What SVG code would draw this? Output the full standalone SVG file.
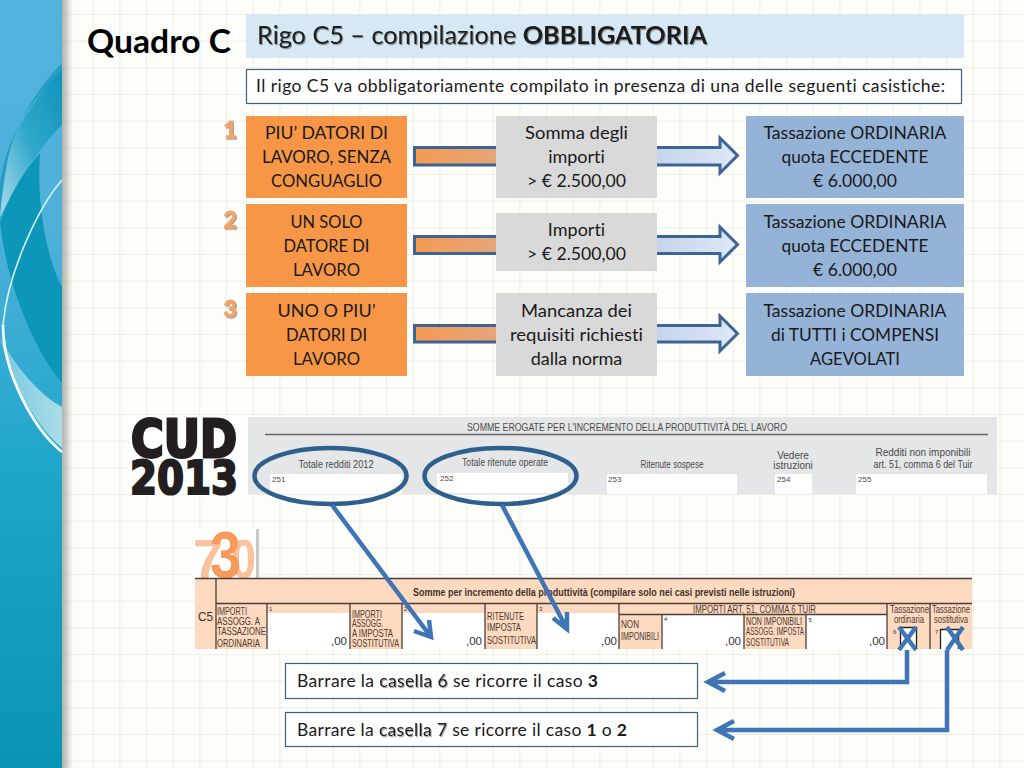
<svg xmlns="http://www.w3.org/2000/svg" width="1024" height="768" viewBox="0 0 1024 768">
<style>
text{font-family:"Lato","Liberation Sans",sans-serif;fill:#1a1a1a;font-variant-ligatures:none}
.n{font-size:18px;text-anchor:middle}
.org{fill:#f79646}.gry{fill:#d9d9d9}.blu{fill:#95b3d7}
.arrow{fill:url(#ag);stroke:#3e6496;stroke-width:3}
.link{fill:none;stroke:#3f75b5;stroke-width:4.5}
.oval{fill:none;stroke:#2f5f8d;stroke-width:4.5}
.f{font-family:"Liberation Sans",sans-serif;fill:#4a4a4a}
.s{font-size:10px;text-anchor:middle}
.w{fill:#fff}
.l{font-family:"Liberation Sans",sans-serif;font-size:10px;fill:#4b3b30}
.v{font-family:"Liberation Sans",sans-serif;font-size:11.5px;fill:#333;text-anchor:end}
.t{font-family:"Liberation Sans",sans-serif;font-size:6px;fill:#333}
.r{stroke:#4a3f38;stroke-width:1.3;fill:none}
.num{font-size:23px;font-weight:900;fill:#f2a56a;stroke:#f2a56a;stroke-width:.8;filter:url(#sh)}
.bar{font-size:17.5px}
.shd{filter:url(#sh)}
</style>
<defs>
<pattern id="grid" x="66" y="14" width="26.67" height="26.67" patternUnits="userSpaceOnUse">
<path d="M0 0H26.67M0 0V26.67" fill="none" stroke="#e9e9e3" stroke-width="1.4"/>
</pattern>
<linearGradient id="band" x1="0" y1="0" x2="0" y2="1">
<stop offset="0" stop-color="#51b2de"/><stop offset=".3" stop-color="#4fb0da"/><stop offset=".6" stop-color="#1fa6cb"/><stop offset="1" stop-color="#0993b6"/>
</linearGradient>
<linearGradient id="edge" x1="0" y1="0" x2="1" y2="0">
<stop offset="0" stop-color="#8a8a80" stop-opacity=".65"/><stop offset="1" stop-color="#8a8a80" stop-opacity="0"/>
</linearGradient>
<linearGradient id="ag" gradientUnits="userSpaceOnUse" x1="414" y1="0" x2="739" y2="0">
<stop offset="0" stop-color="#f49a52"/><stop offset=".27" stop-color="#e3a67c"/><stop offset=".75" stop-color="#c5d5ec"/><stop offset="1" stop-color="#dfe8f5"/>
</linearGradient>
<linearGradient id="sw1" x1="0" y1="1" x2="1" y2="0">
<stop offset="0" stop-color="#bfe6ee" stop-opacity=".8"/><stop offset=".5" stop-color="#2aa6c8" stop-opacity=".9"/><stop offset="1" stop-color="#0f93bb"/>
</linearGradient>
<linearGradient id="sw2" x1="0" y1="0" x2="1" y2="0">
<stop offset="0" stop-color="#e0f4f6" stop-opacity=".4"/><stop offset="1" stop-color="#d8eff2" stop-opacity=".75"/>
</linearGradient>
<filter id="sh" x="-5%" y="-15%" width="110%" height="140%">
<feDropShadow dx="1" dy="1.2" stdDeviation=".7" flood-color="#555" flood-opacity=".6"/>
</filter>
</defs>
<rect width="1024" height="768" fill="#fdfdf9"/>
<rect width="1024" height="768" fill="url(#grid)"/>
<g id="sidebar">
<rect x="62" width="11" height="768" fill="url(#edge)"/>
<rect width="62" height="768" fill="url(#band)"/>
<path d="M62 63C40 85 18 120 10 150C6 170 3 195 0 222L0 183C8 130 35 95 62 72Z" fill="#1b97c0" opacity=".8"/>
<path d="M62 70C40 90 18 125 10 150C5 170 2 195 0 217C14 190 36 150 62 125Z" fill="url(#sw1)"/>
<path d="M40 153C20 175 8 200 0 222C5 275 30 345 62 383V287C50 265 36 215 40 153Z" fill="#0c97ba"/>
<path d="M0 338C18 370 40 395 62 407V448C40 430 14 390 0 338Z" fill="url(#sw2)"/>
<path d="M62 180C40 205 8 270 3 325" fill="none" stroke="#d9f3f6" stroke-width="1.6"/>
<path d="M3 325C3 375 35 430 62 452" fill="none" stroke="#f2fbfb" stroke-width="2.8"/>
</g>
<g id="title">
<text x="87" y="53" font-size="33" font-weight="700" textLength="144" lengthAdjust="spacingAndGlyphs" style="fill:#000">Quadro C</text>
</g>
<g id="subtitle">
<rect x="246" y="14" width="718" height="44" fill="#d6e8f3"/>
<text x="257" y="44" font-size="25" class="shd" textLength="450" lengthAdjust="spacingAndGlyphs">Rigo C5 – compilazione <tspan font-weight="700">OBBLIGATORIA</tspan></text>
</g>
<g id="intro">
<rect x="246.500" y="69.500" width="715" height="34" fill="#fff" stroke="#3f6080" stroke-width="1.2"/>
<text x="256" y="92" font-size="17.500" textLength="689">Il rigo C5 va obbligatoriamente compilato in presenza di una delle seguenti casistiche:</text>
</g>
<g id="connectors">
<path class="arrow" d="M414.500 147.500H720V138L737.500 155.500L720 173V165H414.500Z"/>
<path class="arrow" d="M414.500 236.500H720V227L737.500 244.500L720 262V253.500H414.500Z"/>
<path class="arrow" d="M414.500 325.500H720V316L737.500 333.500L720 351V342H414.500Z"/>
</g>
<g id="num1"><text class="num" x="223.500" y="138">1</text></g>
<g id="num2"><text class="num" x="223.500" y="228">2</text></g>
<g id="num3"><text class="num" x="223.500" y="317">3</text></g>
<g id="a1"><rect class="org" x="246" y="116" width="161" height="82"/>
<text class="n" x="326.500" y="139" textLength="123" lengthAdjust="spacingAndGlyphs">PIU’ DATORI DI</text><text class="n" x="326.500" y="163" textLength="129" lengthAdjust="spacingAndGlyphs">LAVORO, SENZA</text><text class="n" x="326.500" y="187" textLength="111" lengthAdjust="spacingAndGlyphs">CONGUAGLIO</text></g>
<g id="a2"><rect class="org" x="246" y="204" width="161" height="83"/>
<text class="n" x="326.500" y="228" textLength="72" lengthAdjust="spacingAndGlyphs">UN SOLO</text><text class="n" x="326.500" y="252" textLength="86" lengthAdjust="spacingAndGlyphs">DATORE DI</text><text class="n" x="326.500" y="276" textLength="67" lengthAdjust="spacingAndGlyphs">LAVORO</text></g>
<g id="a3"><rect class="org" x="246" y="293" width="161" height="83"/>
<text class="n" x="326.500" y="317" textLength="98" lengthAdjust="spacingAndGlyphs">UNO O PIU’</text><text class="n" x="326.500" y="341" textLength="81" lengthAdjust="spacingAndGlyphs">DATORI DI</text><text class="n" x="326.500" y="365" textLength="67" lengthAdjust="spacingAndGlyphs">LAVORO</text></g>
<g id="b1"><rect class="gry" x="496" y="116" width="161" height="82"/>
<text class="n" x="576.500" y="139" textLength="103" lengthAdjust="spacingAndGlyphs">Somma degli</text><text class="n" x="576.500" y="163">importi</text><text class="n" x="576.500" y="187" textLength="99" lengthAdjust="spacingAndGlyphs">&gt; € 2.500,00</text></g>
<g id="b2"><rect class="gry" x="496" y="213" width="161" height="58"/>
<text class="n" x="576.500" y="236">Importi</text><text class="n" x="576.500" y="260" textLength="99" lengthAdjust="spacingAndGlyphs">&gt; € 2.500,00</text></g>
<g id="b3"><rect class="gry" x="496" y="293" width="161" height="83"/>
<text class="n" x="576.500" y="317" textLength="111" lengthAdjust="spacingAndGlyphs">Mancanza dei</text><text class="n" x="576.500" y="341" textLength="133" lengthAdjust="spacingAndGlyphs">requisiti richiesti</text><text class="n" x="576.500" y="365">dalla norma</text></g>
<g id="c1"><rect class="blu" x="746" y="116" width="218" height="82"/>
<text class="n" x="855" y="139" textLength="183" lengthAdjust="spacingAndGlyphs">Tassazione ORDINARIA</text><text class="n" x="855" y="163" textLength="147" lengthAdjust="spacingAndGlyphs">quota ECCEDENTE</text><text class="n" x="855" y="187" textLength="84" lengthAdjust="spacingAndGlyphs">€ 6.000,00</text></g>
<g id="c2"><rect class="blu" x="746" y="204" width="218" height="83"/>
<text class="n" x="855" y="228" textLength="183" lengthAdjust="spacingAndGlyphs">Tassazione ORDINARIA</text><text class="n" x="855" y="252" textLength="147" lengthAdjust="spacingAndGlyphs">quota ECCEDENTE</text><text class="n" x="855" y="276" textLength="84" lengthAdjust="spacingAndGlyphs">€ 6.000,00</text></g>
<g id="c3"><rect class="blu" x="746" y="293" width="218" height="83"/>
<text class="n" x="855" y="317" textLength="183" lengthAdjust="spacingAndGlyphs">Tassazione ORDINARIA</text><text class="n" x="855" y="341" textLength="168" lengthAdjust="spacingAndGlyphs">di TUTTI i COMPENSI</text><text class="n" x="855" y="365" textLength="90" lengthAdjust="spacingAndGlyphs">AGEVOLATI</text></g>

<g id="cud-logo">
<rect x="128" y="415" width="119" height="82" fill="#fff"/>
<text x="131" y="456.500" font-size="52" textLength="106" lengthAdjust="spacingAndGlyphs" style="font-family:'DejaVu Sans',sans-serif;font-weight:700;fill:#231f20;stroke:#231f20;stroke-width:3">CUD</text>
<text x="130" y="493.500" font-size="46" textLength="108" lengthAdjust="spacingAndGlyphs" style="font-family:'DejaVu Sans',sans-serif;font-weight:700;fill:#231f20;stroke:#231f20;stroke-width:2.200">2013</text>
</g>
<g id="cud-form">
<rect x="248" y="417" width="749" height="77" fill="#e5e6e8"/>
<path d="M265 434.500H988" stroke="#666" stroke-width="1.5"/>
<text class="f" x="467" y="431" font-size="10" textLength="320" lengthAdjust="spacingAndGlyphs">SOMME EROGATE PER L'INCREMENTO DELLA PRODUTTIVITÀ DEL LAVORO</text>
<rect class="w" x="270" y="474" width="132" height="20"/><rect class="w" x="437" y="473" width="131" height="20"/><rect class="w" x="607" y="474" width="130" height="20"/><rect class="w" x="775" y="474" width="37" height="20"/><rect class="w" x="856" y="474" width="131" height="20"/>
<text class="f s" x="336" y="468" textLength="75" lengthAdjust="spacingAndGlyphs">Totale redditi 2012</text>
<text class="f s" x="505" y="466" textLength="86" lengthAdjust="spacingAndGlyphs">Totale ritenute operate</text>
<text class="f s" x="672" y="468" textLength="63" lengthAdjust="spacingAndGlyphs">Ritenute sospese</text>
<text class="f s" x="793" y="459">Vedere</text><text class="f s" x="793" y="469">istruzioni</text>
<text class="f s" x="923" y="456">Redditi non imponibili</text>
<text class="f s" x="923" y="468" textLength="99" lengthAdjust="spacingAndGlyphs">art. 51, comma 6 del Tuir</text>
<g class="f" font-size="8"><text class="f" x="272" y="482">251</text><text class="f" x="440" y="481">252</text><text class="f" x="608" y="482">253</text><text class="f" x="777" y="482">254</text><text class="f" x="858" y="482">255</text></g>
</g>
<g id="logo-730">
<rect x="193" y="529" width="63" height="49" fill="#fff"/><rect x="256" y="529" width="3" height="49" fill="#c9c9c4"/>
<text x="193" y="578" font-size="56" textLength="30" lengthAdjust="spacingAndGlyphs" style="font-family:'Liberation Sans',sans-serif;font-weight:700;fill:#fbc19c">7</text>
<text x="231" y="578" font-size="56" textLength="25" lengthAdjust="spacingAndGlyphs" style="font-family:'Liberation Sans',sans-serif;font-weight:700;fill:#fbc19c">0</text>
<text x="210" y="578" font-size="66" textLength="31" lengthAdjust="spacingAndGlyphs" style="font-family:'Liberation Sans',sans-serif;font-weight:700;fill:#f59a58">3</text>
</g>
<g id="form-730">
<rect x="195" y="578" width="777" height="71" fill="#fdd9c0"/>
<rect class="w" x="267" y="613" width="83" height="36"/><rect class="w" x="402" y="613" width="83" height="36"/><rect class="w" x="537" y="613" width="82" height="36"/><rect class="w" x="662" y="615" width="82" height="34"/><rect class="w" x="806" y="615" width="81" height="34"/>
<path class="r" d="M195 578.500H972M216 603.500H972M619 614.500H887M216 578V649M267 603V649M350 603V649M402 603V649M485 603V649M537 603V649M619 603V649M662 614V649M744 614V649M806 614V649M887 603V649M930 603V649"/>
<text x="413" y="596" font-size="10.500" textLength="382" lengthAdjust="spacingAndGlyphs" style="font-family:'Liberation Sans',sans-serif;font-weight:700;fill:#3d332c">Somme per incremento della produttività (compilare solo nei casi previsti nelle istruzioni)</text>
<text x="198" y="621" font-size="13" textLength="15" lengthAdjust="spacingAndGlyphs" style="font-family:'Liberation Sans',sans-serif;fill:#3d332c">C5</text>
<text class="l" x="217" y="615" textLength="30" lengthAdjust="spacingAndGlyphs">IMPORTI</text><text class="l" x="217" y="625" textLength="43" lengthAdjust="spacingAndGlyphs">ASSOGG. A</text><text class="l" x="217" y="635" textLength="49" lengthAdjust="spacingAndGlyphs">TASSAZIONE</text><text class="l" x="217" y="647" textLength="43" lengthAdjust="spacingAndGlyphs">ORDINARIA</text>
<text class="l" x="352" y="618" textLength="30" lengthAdjust="spacingAndGlyphs">IMPORTI</text><text class="l" x="352" y="627" textLength="31" lengthAdjust="spacingAndGlyphs">ASSOGG.</text><text class="l" x="352" y="637" textLength="41" lengthAdjust="spacingAndGlyphs">A IMPOSTA</text><text class="l" x="352" y="647" textLength="47" lengthAdjust="spacingAndGlyphs">SOSTITUTIVA</text>
<text class="l" x="487" y="620" textLength="37" lengthAdjust="spacingAndGlyphs">RITENUTE</text><text class="l" x="487" y="631" textLength="34" lengthAdjust="spacingAndGlyphs">IMPOSTA</text><text class="l" x="487" y="644" textLength="49" lengthAdjust="spacingAndGlyphs">SOSTITUTIVA</text>
<text class="l" x="621" y="628" textLength="18" lengthAdjust="spacingAndGlyphs">NON</text><text class="l" x="621" y="640" textLength="38" lengthAdjust="spacingAndGlyphs">IMPONIBILI</text>
<text class="l" x="746" y="625" textLength="56" lengthAdjust="spacingAndGlyphs">NON IMPONIBILI</text><text class="l" x="746" y="635" textLength="58" lengthAdjust="spacingAndGlyphs">ASSOGG. IMPOSTA</text><text class="l" x="746" y="646" textLength="43" lengthAdjust="spacingAndGlyphs">SOSTITUTIVA</text>
<text class="l" x="693" y="613" textLength="123" lengthAdjust="spacingAndGlyphs">IMPORTI ART. 51, COMMA 6 TUIR</text>
<text class="l" x="890" y="613" textLength="39" lengthAdjust="spacingAndGlyphs">Tassazione</text><text class="l" x="894" y="623" textLength="30" lengthAdjust="spacingAndGlyphs">ordinaria</text>
<text class="l" x="932" y="613" textLength="38" lengthAdjust="spacingAndGlyphs">Tassazione</text><text class="l" x="934" y="623" textLength="34" lengthAdjust="spacingAndGlyphs">sostitutiva</text>
<text class="t" x="269" y="611">1</text><text class="t" x="404" y="611">2</text><text class="t" x="539" y="611">3</text><text class="t" x="664" y="621">4</text><text class="t" x="808.500" y="622">5</text><text class="t" x="893" y="634">6</text><text class="t" x="935" y="634">7</text>
<text class="v" x="347" y="645">,00</text><text class="v" x="482" y="645">,00</text><text class="v" x="617" y="645">,00</text><text class="v" x="741" y="645">,00</text><text class="v" x="885" y="645">,00</text>
<path d="M900.500 649V627.500H916.500V649" fill="#fff" stroke="#222" stroke-width="1.300"/>
<path d="M940.500 649V629.500H958.500V649" fill="#fff" stroke="#222" stroke-width="1.300"/>
</g>
<g id="note1"><rect x="285.500" y="663.500" width="412" height="35" fill="#fff" stroke="#3f6080" stroke-width="1.200"/>
<text class="bar" x="297" y="687" textLength="301">Barrare la <tspan class="shd">casella 6</tspan> se ricorre il caso <tspan font-weight="700">3</tspan></text></g>
<g id="note2"><rect x="285.500" y="712.500" width="412" height="34" fill="#fff" stroke="#3f6080" stroke-width="1.200"/>
<text class="bar" x="297" y="736" textLength="330">Barrare la <tspan class="shd">casella 7</tspan> se ricorre il caso <tspan font-weight="700">1</tspan> o <tspan font-weight="700">2</tspan></text></g>
<g id="links">
<ellipse class="oval" cx="330.500" cy="476" rx="76" ry="28"/>
<ellipse class="oval" cx="500.500" cy="476" rx="76" ry="28"/>
<path class="link" d="M332 505L431 637M414 631L431 637L429 620"/>
<path class="link" d="M502 505L567 629M553 618L567 629L567 612"/>
<path class="link" d="M899 627L916 650M916 627L899 650"/>
<path class="link" d="M947 627L963 650M963 627L947 650"/>
<path class="link" d="M907 650V682H708M725 673L708 682L725 691"/>
<path class="link" d="M947 650V730H717M734 721L717 730L734 739"/>
</g>
</svg>
